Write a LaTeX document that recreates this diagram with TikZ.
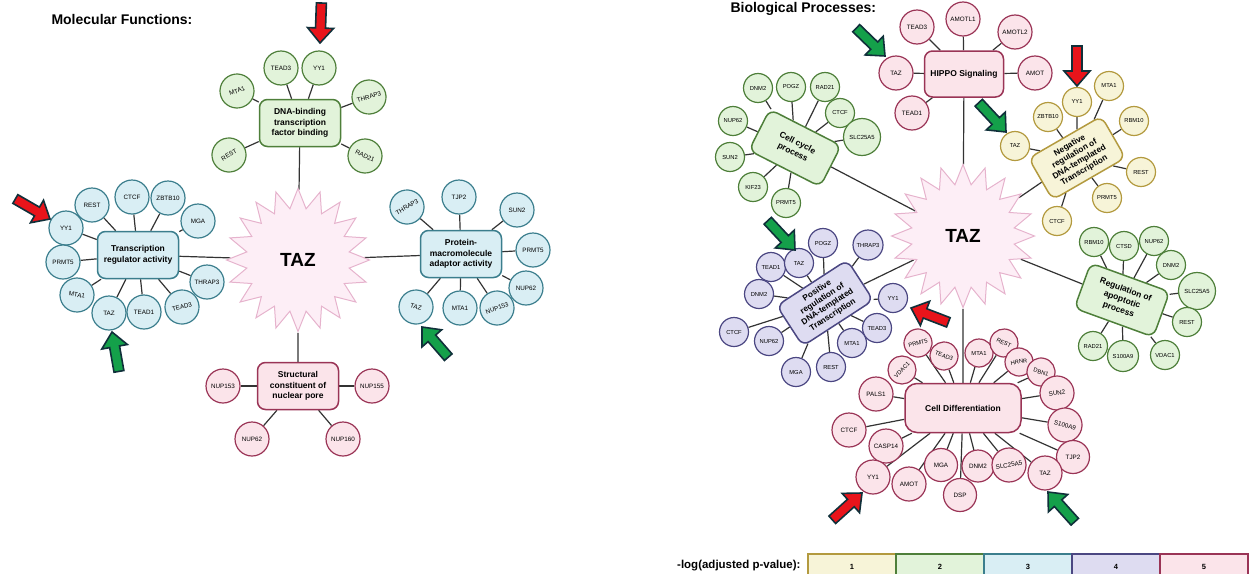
\documentclass[tikz,border=0pt]{standalone}
\usepackage{fontspec}
\setmainfont{Liberation Sans}
\usetikzlibrary{shapes.geometric,backgrounds}
\definecolor{gF}{HTML}{E2F3DA}\definecolor{gD}{HTML}{4E7F3A}
\definecolor{bF}{HTML}{D9EEF4}\definecolor{bD}{HTML}{3B7E8D}
\definecolor{pF}{HTML}{FBE4EA}\definecolor{pD}{HTML}{9A3456}
\definecolor{uF}{HTML}{DEDCF1}\definecolor{uD}{HTML}{4B4782}
\definecolor{yF}{HTML}{F7F4D8}\definecolor{yD}{HTML}{B39A3F}
\definecolor{sF}{HTML}{FDEEF6}\definecolor{sD}{HTML}{E6B3CD}
\definecolor{arR}{HTML}{E8141B}\definecolor{arG}{HTML}{14A04A}\definecolor{arO}{HTML}{10303A}
\definecolor{ln}{HTML}{333333}
\newcommand\blockarr[4]{%
  \begin{scope}[shift={(#2,#3)},rotate=#4]
    \filldraw[fill=#1,draw=arO,line width=1.6pt,line join=miter]
      (0,0) -- (-15,-13) -- (-15,-5) -- (-40,-5) -- (-40,5) -- (-15,5) -- (-15,13) -- cycle;
  \end{scope}}
\tikzset{
  term/.style={rounded corners=8pt,draw,line width=1.5pt,minimum width=81pt,minimum height=47pt,
    align=center,inner sep=1pt,font=\fontsize{8.5}{10.5}\selectfont\bfseries},
  term4/.style={term,minimum width=84pt,minimum height=48pt,font=\fontsize{8.3}{9.6}\selectfont\bfseries},
  gene/.style={circle,draw,line width=1.2pt,minimum size=34pt,inner sep=0pt,font=\fontsize{6.3}{7}\selectfont},
  sgene/.style={gene,minimum size=29pt,font=\fontsize{5.8}{7}\selectfont},
  bgene/.style={gene,minimum size=37pt,font=\fontsize{5.9}{7}\selectfont},
  G/.style={fill=gF,draw=gD}, B/.style={fill=bF,draw=bD}, P/.style={fill=pF,draw=pD},
  U/.style={fill=uF,draw=uD}, Y/.style={fill=yF,draw=yD},
  hub/.style={star,star points=20,star point ratio=1.38,minimum size=143pt,inner sep=0pt,
    fill=sF,draw=sD,line width=1pt,font=\fontsize{19}{20}\selectfont\bfseries},
  link/.style={draw=ln,line width=1.2pt},
  legbox/.style={draw,line width=1.5pt,minimum width=88pt,minimum height=26pt,inner sep=0pt,
    font=\fontsize{7.5}{8}\selectfont\bfseries},
  ttl/.style={font=\fontsize{14}{15}\selectfont\bfseries,anchor=base west}
}
\begin{document}
\begin{tikzpicture}[x=1pt,y=-1pt]
\useasboundingbox (0,0) rectangle (1249,573);

% ---------------- Molecular Functions ----------------
\node[ttl] (t1) at (48,24) {Molecular Functions:};
\node[hub] (tazL) at (298,260) {TAZ};

\node[term,G] (dna) at (300,123) {DNA-binding\\transcription\\factor binding};
\node[gene,G] (dna1) at (281,68) {TEAD3};
\node[gene,G] (dna2) at (319,68) {YY1};
\node[gene,G,rotate=20] (dna3) at (237,91) {MTA1};
\node[gene,G,rotate=15] (dna4) at (369,97) {THRAP3};
\node[gene,G,rotate=30] (dna5) at (229,155) {REST};
\node[gene,G,rotate=-25] (dna6) at (365,156) {RAD21};

\node[term,B] (tr) at (138,255) {Transcription\\regulator activity};
\node[gene,B] (tr1) at (66,228) {YY1};
\node[gene,B] (tr2) at (92,205) {REST};
\node[gene,B] (tr3) at (132,197) {CTCF};
\node[gene,B] (tr4) at (168,198) {ZBTB10};
\node[gene,B] (tr5) at (198,221) {MGA};
\node[gene,B] (tr6) at (63,262) {PRMT5};
\node[gene,B] (tr7) at (207,282) {THRAP3};
\node[gene,B,rotate=-10] (tr8) at (77,295) {MTA1};
\node[gene,B] (tr9) at (109,313) {TAZ};
\node[gene,B] (tr10) at (144,312) {TEAD1};
\node[gene,B,rotate=15] (tr11) at (182,307) {TEAD3};

\node[term,B] (pm) at (461,254) {Protein-\\macromolecule\\adaptor activity};
\node[gene,B,rotate=30] (pm1) at (407,207) {THRAP3};
\node[gene,B] (pm2) at (459,197) {TJP2};
\node[gene,B] (pm3) at (517,210) {SUN2};
\node[gene,B] (pm4) at (533,250) {PRMT5};
\node[gene,B] (pm5) at (526,288) {NUP62};
\node[gene,B,rotate=20] (pm6) at (497,308) {NUP153};
\node[gene,B] (pm7) at (460,308) {MTA1};
\node[gene,B,rotate=-15] (pm8) at (416,307) {TAZ};

\node[term,P] (sc) at (298,386) {Structural\\constituent of\\nuclear pore};
\node[gene,P] (sc1) at (223,386) {NUP153};
\node[gene,P] (sc2) at (372,386) {NUP155};
\node[gene,P] (sc3) at (252,439) {NUP62};
\node[gene,P] (sc4) at (343,439) {NUP160};

% ---------------- Biological Processes ----------------
\node[ttl] (t2) at (727,12) {Biological Processes:};
\node[hub] (tazR) at (963,236) {TAZ};

\node[term,P,minimum width=79pt,minimum height=46pt] (hp) at (964,74) {HIPPO Signaling};
\node[gene,P] (hp1) at (917,27) {TEAD3};
\node[gene,P] (hp2) at (963,19) {AMOTL1};
\node[gene,P] (hp3) at (1015,32) {AMOTL2};
\node[gene,P] (hp4) at (1035,73) {AMOT};
\node[gene,P] (hp5) at (896,73) {TAZ};
\node[gene,P] (hp6) at (912,113) {TEAD1};

\node[term,G,rotate=-27,minimum width=80pt,minimum height=46pt] (cc) at (795,148) {Cell cycle\\process};
\node[sgene,G] (cc1) at (758,88) {DNM2};
\node[sgene,G] (cc2) at (791,87) {POGZ};
\node[sgene,G] (cc3) at (825,87) {RAD21};
\node[sgene,G] (cc4) at (840,113) {CTCF};
\node[bgene,G] (cc5) at (862,137) {SLC25A5};
\node[sgene,G] (cc6) at (733,121) {NUP62};
\node[sgene,G] (cc7) at (730,157) {SUN2};
\node[sgene,G] (cc8) at (753,187) {KIF23};
\node[sgene,G] (cc9) at (786,203) {PRMT5};

\node[term4,Y,rotate=30] (ng) at (1077,158) {Negative\\regulation of\\DNA-templated\\Transcription};
\node[sgene,Y] (ng1) at (1015,146) {TAZ};
\node[sgene,Y] (ng2) at (1048,117) {ZBTB10};
\node[sgene,Y] (ng3) at (1077,102) {YY1};
\node[sgene,Y] (ng4) at (1109,86) {MTA1};
\node[sgene,Y] (ng5) at (1134,121) {RBM10};
\node[sgene,Y] (ng6) at (1141,172) {REST};
\node[sgene,Y] (ng7) at (1107,198) {PRMT5};
\node[sgene,Y] (ng8) at (1057,221) {CTCF};

\node[term4,U,rotate=33] (ps) at (825,303) {Positive\\regulation of\\DNA-templated\\Transcription};
\node[sgene,U] (ps1) at (771,267) {TEAD1};
\node[sgene,U] (ps2) at (799,263) {TAZ};
\node[sgene,U] (ps3) at (823,243) {POGZ};
\node[sgene,U,minimum size=30pt] (ps4) at (868,245) {THRAP3};
\node[sgene,U] (ps5) at (759,294) {DNM2};
\node[sgene,U] (ps6) at (893,298) {YY1};
\node[sgene,U] (ps7) at (734,332) {CTCF};
\node[sgene,U] (ps8) at (769,341) {NUP62};
\node[sgene,U] (ps9) at (877,328) {TEAD3};
\node[sgene,U] (ps10) at (852,343) {MTA1};
\node[sgene,U] (ps11) at (796,372) {MGA};
\node[sgene,U] (ps12) at (831,367) {REST};

\node[term,P,minimum width=116pt,minimum height=49pt,rounded corners=12pt] (cd) at (963,408) {Cell Differentiation};
\node[sgene,P,minimum size=28pt,rotate=15] (cd1) at (918,343) {PRMT5};
\node[sgene,P,minimum size=28pt,rotate=-20] (cd2) at (944,356) {TEAD3};
\node[sgene,P,minimum size=28pt,rotate=45] (cd3) at (902,370) {VDAC1};
\node[sgene,P,minimum size=28pt] (cd4) at (979,353) {MTA1};
\node[sgene,P,minimum size=28pt,rotate=-25] (cd5) at (1004,343) {REST};
\node[sgene,P,minimum size=28pt,rotate=10] (cd6) at (1019,362) {HRNR};
\node[sgene,P,minimum size=28pt,rotate=-15] (cd7) at (1041,372) {DBN1};
\node[gene,P] (cd8) at (876,394) {PALS1};
\node[gene,P,rotate=10] (cd9) at (1057,393) {SUN2};
\node[gene,P] (cd10) at (849,430) {CTCF};
\node[gene,P,rotate=-15] (cd11) at (1065,425) {S100A9};
\node[gene,P] (cd12) at (886,446) {CASP14};
\node[gene,P,minimum size=33pt] (cd13) at (1073,457) {TJP2};
\node[gene,P] (cd14) at (873,477) {YY1};
\node[gene,P] (cd15) at (909,484) {AMOT};
\node[gene,P,minimum size=33pt] (cd16) at (941,465) {MGA};
\node[gene,P,minimum size=33pt] (cd17) at (960,495) {DSP};
\node[gene,P,minimum size=32pt] (cd18) at (978,466) {DNM2};
\node[gene,P,rotate=10] (cd19) at (1009,465) {SLC25A5};
\node[gene,P] (cd20) at (1045,473) {TAZ};

\node[term4,G,rotate=-20,font=\fontsize{8.5}{10.5}\selectfont\bfseries] (ap) at (1122,300) {Regulation of\\apoptotic\\process};
\node[sgene,G] (ap1) at (1094,242) {RBM10};
\node[sgene,G] (ap2) at (1124,246) {CTSD};
\node[sgene,G] (ap3) at (1154,241) {NUP62};
\node[sgene,G] (ap4) at (1171,265) {DNM2};
\node[bgene,G] (ap5) at (1197,291) {SLC25A5};
\node[sgene,G] (ap6) at (1187,322) {REST};
\node[sgene,G] (ap7) at (1093,346) {RAD21};
\node[sgene,G,minimum size=31pt] (ap8) at (1123,356) {S100A9};
\node[sgene,G] (ap9) at (1165,355) {VDAC1};

% ---------------- connectors ----------------
\begin{scope}[on background layer]
  \foreach \b in {dna,tr,pm,sc} \draw[link] (\b) -- (tazL);
  \foreach \b in {hp,cc,ng,ps,cd,ap} \draw[link] (\b) -- (tazR);
  \foreach \i in {1,...,6} \draw[link] (dna) -- (dna\i);
  \foreach \i in {1,...,11} \draw[link] (tr) -- (tr\i);
  \foreach \i in {1,...,8} \draw[link] (pm) -- (pm\i);
  \foreach \i in {1,...,4} \draw[link] (sc) -- (sc\i);
  \foreach \i in {1,...,6} \draw[link] (hp) -- (hp\i);
  \foreach \i in {1,...,9} \draw[link] (cc) -- (cc\i);
  \foreach \i in {1,...,8} \draw[link] (ng) -- (ng\i);
  \foreach \i in {1,...,12} \draw[link] (ps) -- (ps\i);
  \foreach \i in {1,...,20} \draw[link] (cd) -- (cd\i);
  \foreach \i in {1,...,9} \draw[link] (ap) -- (ap\i);
\end{scope}

% ---------------- highlight arrows ----------------
\blockarr{arR}{320}{43}{-92}
\blockarr{arR}{50}{219}{-30}
\blockarr{arG}{112}{332}{100}
\blockarr{arG}{422}{327}{131}
\blockarr{arG}{885}{56}{-44}
\blockarr{arG}{1006}{132}{-47}
\blockarr{arR}{1077}{86}{-90}
\blockarr{arG}{795}{250}{-47}
\blockarr{arR}{911}{308}{159}
\blockarr{arR}{862}{493}{42}
\blockarr{arG}{1048}{492}{132}

% ---------------- legend ----------------
\node[font=\fontsize{11.5}{12}\selectfont\bfseries,anchor=east] (lg) at (804,566) {-log(adjusted p-value):};
\node[legbox,fill=yF,draw=yD] (l1) at (852,567) {1};
\node[legbox,fill=gF,draw=gD] (l2) at (940,567) {2};
\node[legbox,fill=bF,draw=bD] (l3) at (1028,567) {3};
\node[legbox,fill=uF,draw=uD] (l4) at (1116,567) {4};
\node[legbox,fill=pF,draw=pD] (l5) at (1204,567) {5};
\end{tikzpicture}
\end{document}
